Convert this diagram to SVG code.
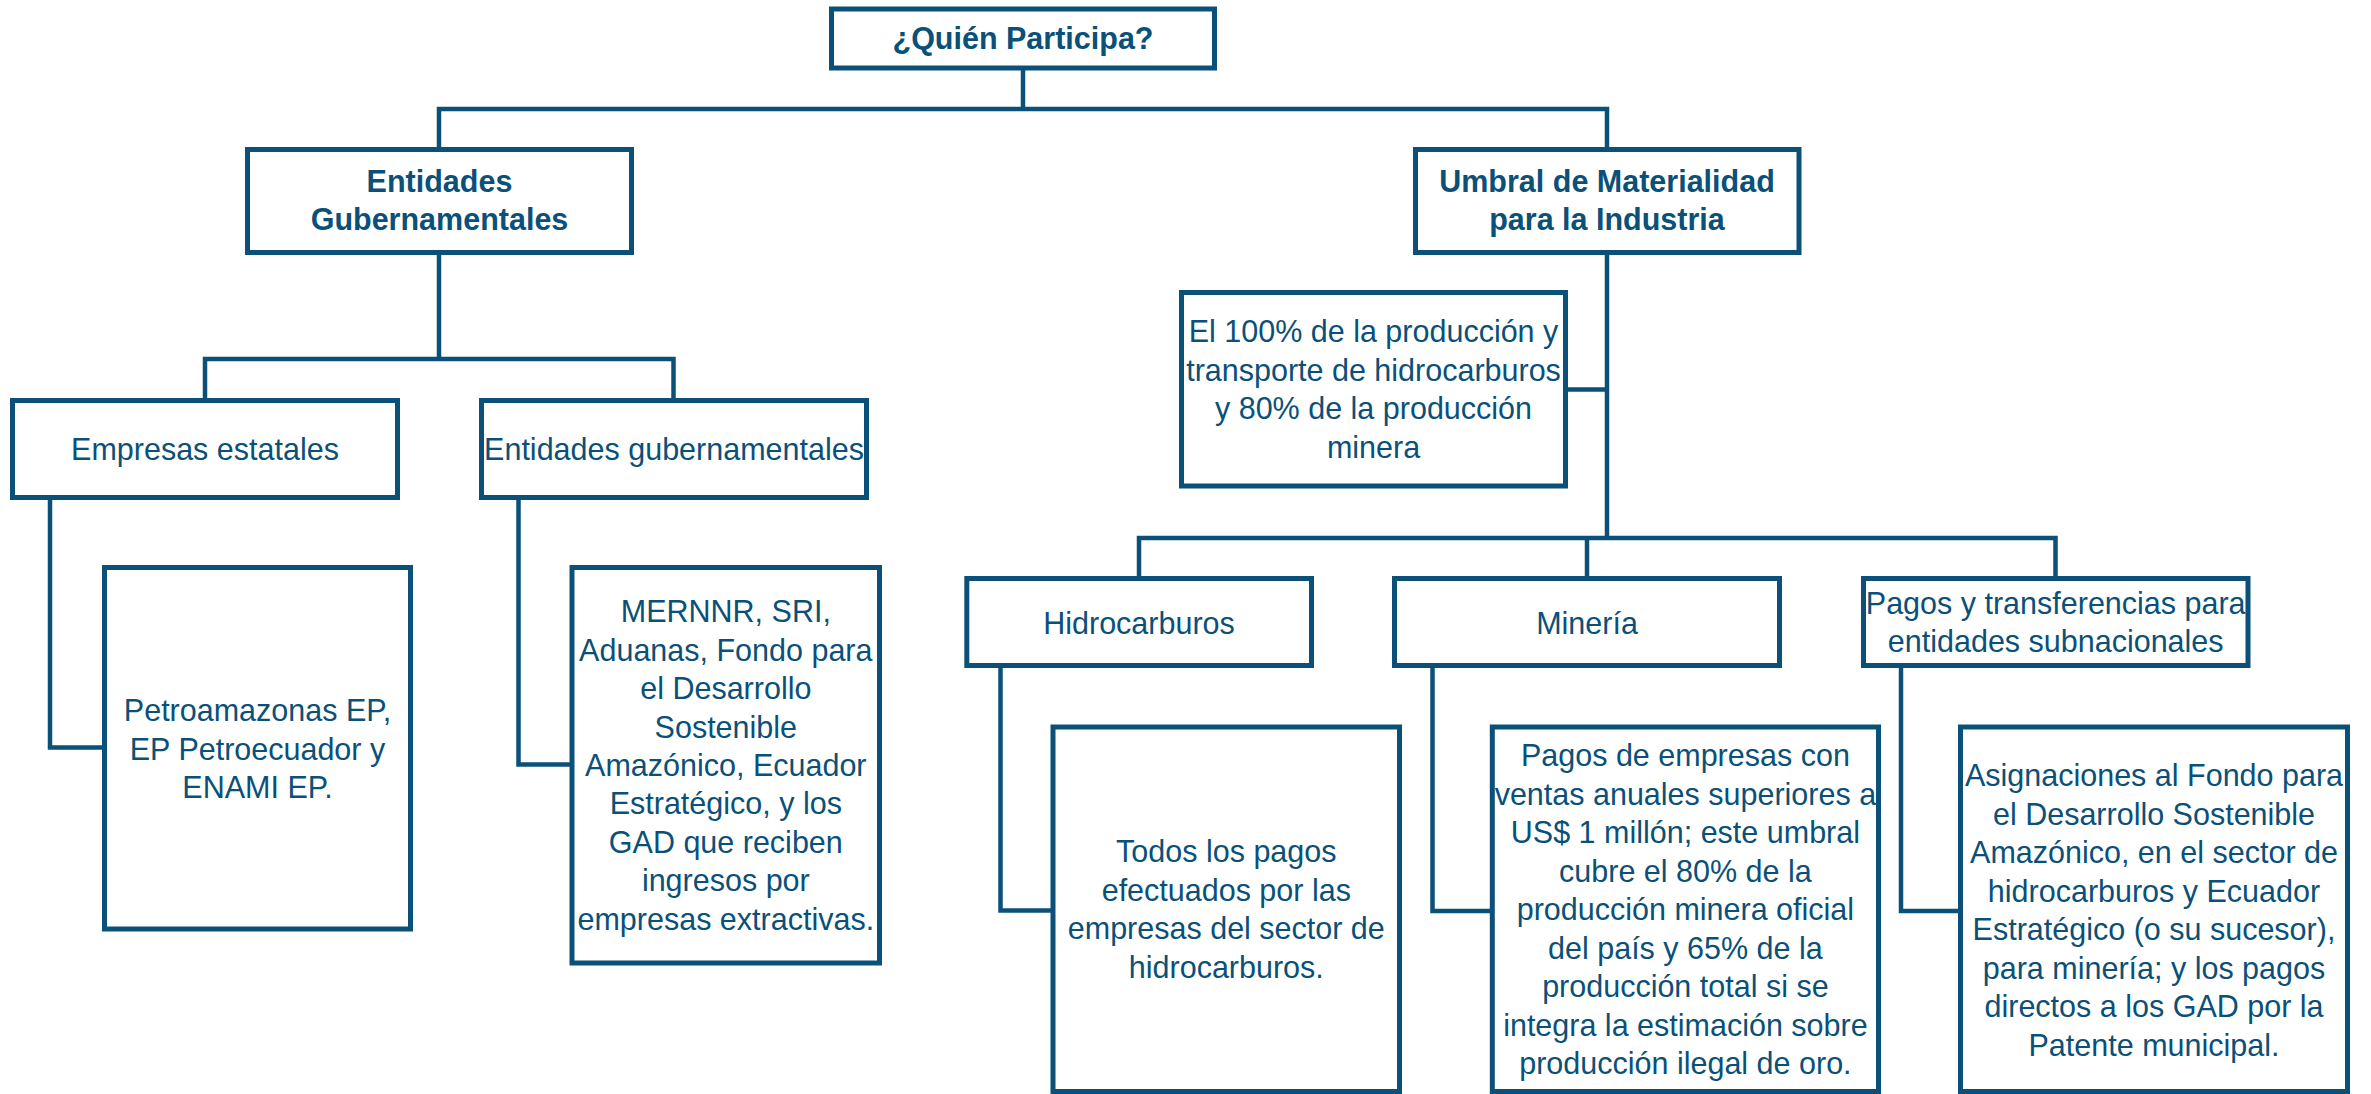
<svg xmlns="http://www.w3.org/2000/svg" width="2371" height="1094" viewBox="0 0 2371 1094">
<style>
.box{fill:#ffffff;stroke:#0a5078;stroke-width:5}
.con{fill:none;stroke:#0a5078;stroke-width:4.5}
text{font-family:"Liberation Sans",Arial,sans-serif;font-size:30.5px;fill:#0a5078;text-anchor:middle}
.b{font-weight:bold}
</style>
<rect width="2371" height="1094" fill="#ffffff"/>
<g id="connectors">
<path class="con" d="M1023,68 V109"/>
<path class="con" d="M439,149.5 V109 H1607 V149.5"/>
<path class="con" d="M439,252.5 V359"/>
<path class="con" d="M205,400.5 V359 H673.5 V400.5"/>
<path class="con" d="M50,497.5 V747.5 H104.5"/>
<path class="con" d="M518.5,497.5 V764.5 H572"/>
<path class="con" d="M1607,252.5 V538"/>
<path class="con" d="M1565.5,389.5 H1607"/>
<path class="con" d="M1139,578.5 V538 H2055.5 V578.5"/>
<path class="con" d="M1587,538 V578.5"/>
<path class="con" d="M1000.5,665.5 V910.5 H1053"/>
<path class="con" d="M1432.5,665.5 V911 H1492.3"/>
<path class="con" d="M1901,665.5 V911 H1960.5"/>
</g>
<g id="quien">
<rect class="box" x="831.5" y="9" width="383" height="59"/>
<text class="b" x="1023" y="49">¿Quién Participa?</text>
</g>
<g id="entidades-gubernamentales">
<rect class="box" x="247.5" y="149.5" width="384" height="103"/>
<text class="b" x="439.5" y="192">Entidades</text>
<text class="b" x="439.5" y="230">Gubernamentales</text>
</g>
<g id="umbral">
<rect class="box" x="1415.5" y="149.5" width="383.5" height="103"/>
<text class="b" x="1607" y="192">Umbral de Materialidad</text>
<text class="b" x="1607" y="230">para la Industria</text>
</g>
<g id="empresas-estatales">
<rect class="box" x="12.5" y="400.5" width="385" height="97"/>
<text x="205" y="459.5">Empresas estatales</text>
</g>
<g id="entidades-gub-2">
<rect class="box" x="481.5" y="400.5" width="385" height="97"/>
<text x="674" y="459.5">Entidades gubernamentales</text>
</g>
<g id="el100">
<rect class="box" x="1181.5" y="292.5" width="384" height="193.5"/>
<text x="1373.5" y="342">El 100% de la producción y</text>
<text x="1373.5" y="380.5">transporte de hidrocarburos</text>
<text x="1373.5" y="419">y 80% de la producción</text>
<text x="1373.5" y="457.5">minera</text>
</g>
<g id="hidrocarburos">
<rect class="box" x="966.8" y="578.5" width="344.7" height="87"/>
<text x="1139" y="633.6">Hidrocarburos</text>
</g>
<g id="mineria">
<rect class="box" x="1394.5" y="578.5" width="385" height="87"/>
<text x="1587" y="633.6">Minería</text>
</g>
<g id="pagos-transferencias">
<rect class="box" x="1863.5" y="578.5" width="384.5" height="87"/>
<text x="2055.7" y="614">Pagos y transferencias para</text>
<text x="2055.7" y="652">entidades subnacionales</text>
</g>
<g id="petroamazonas">
<rect class="box" x="104.5" y="567.5" width="306" height="361.5"/>
<text x="257.5" y="721">Petroamazonas EP,</text>
<text x="257.5" y="759.5">EP Petroecuador y</text>
<text x="257.5" y="798">ENAMI EP.</text>
</g>
<g id="mernnr">
<rect class="box" x="572" y="567.5" width="307.5" height="395.5"/>
<text x="725.8" y="622.3">MERNNR, SRI,</text>
<text x="725.8" y="660.7">Aduanas, Fondo para</text>
<text x="725.8" y="699.1">el Desarrollo</text>
<text x="725.8" y="737.5">Sostenible</text>
<text x="725.8" y="775.9">Amazónico, Ecuador</text>
<text x="725.8" y="814.3">Estratégico, y los</text>
<text x="725.8" y="852.7">GAD que reciben</text>
<text x="725.8" y="891.1">ingresos por</text>
<text x="725.8" y="929.5">empresas extractivas.</text>
</g>
<g id="todos">
<rect class="box" x="1053" y="727" width="346.5" height="364.5"/>
<text x="1226.3" y="862">Todos los pagos</text>
<text x="1226.3" y="900.5">efectuados por las</text>
<text x="1226.3" y="939">empresas del sector de</text>
<text x="1226.3" y="977.5">hidrocarburos.</text>
</g>
<g id="pagos-empresas">
<rect class="box" x="1492.3" y="727" width="386.2" height="364.5"/>
<text x="1685.4" y="766">Pagos de empresas con</text>
<text x="1685.4" y="804.5">ventas anuales superiores a</text>
<text x="1685.4" y="843">US$ 1 millón; este umbral</text>
<text x="1685.4" y="881.5">cubre el 80% de la</text>
<text x="1685.4" y="920">producción minera oficial</text>
<text x="1685.4" y="958.5">del país y 65% de la</text>
<text x="1685.4" y="997">producción total si se</text>
<text x="1685.4" y="1035.5">integra la estimación sobre</text>
<text x="1685.4" y="1074">producción ilegal de oro.</text>
</g>
<g id="asignaciones">
<rect class="box" x="1960.5" y="727" width="387" height="364.5"/>
<text x="2154" y="786">Asignaciones al Fondo para</text>
<text x="2154" y="824.5">el Desarrollo Sostenible</text>
<text x="2154" y="863">Amazónico, en el sector de</text>
<text x="2154" y="901.5">hidrocarburos y Ecuador</text>
<text x="2154" y="940">Estratégico (o su sucesor),</text>
<text x="2154" y="978.5">para minería; y los pagos</text>
<text x="2154" y="1017">directos a los GAD por la</text>
<text x="2154" y="1055.5">Patente municipal.</text>
</g>
</svg>
